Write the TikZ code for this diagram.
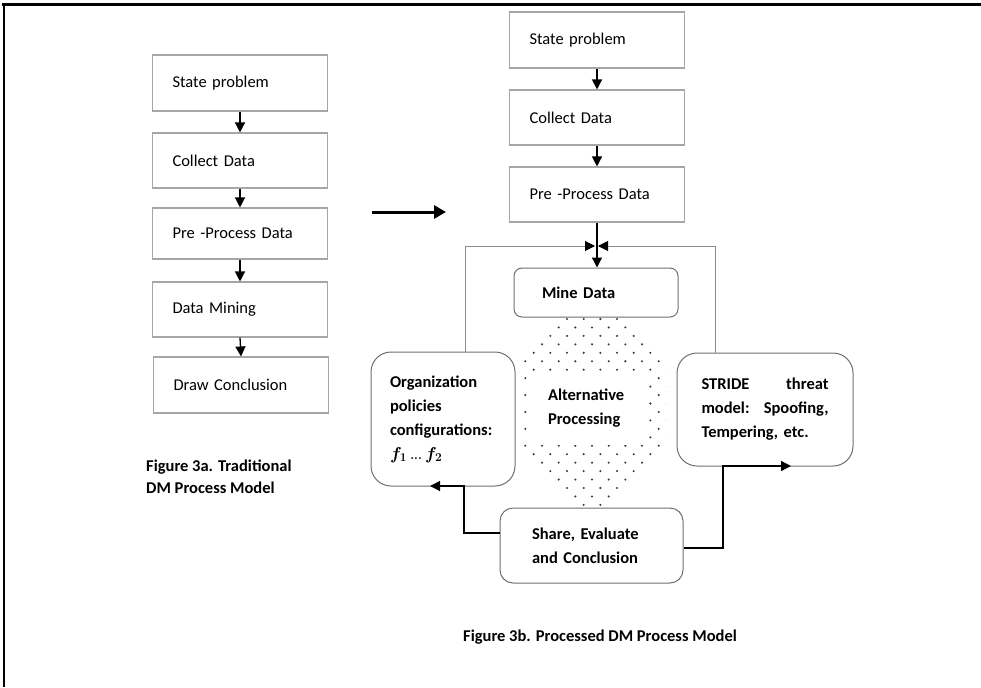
\documentclass[tikz,border=0pt]{standalone}
\usepackage{fontspec}
\setmainfont{Carlito}
\usetikzlibrary{arrows.meta,calc}
\definecolor{boxgrey}{HTML}{A6A6A6}
\definecolor{roundgrey}{HTML}{6E6E6E}
\definecolor{linkgrey}{HTML}{8C8C8C}
\definecolor{dotgrey}{HTML}{3A3A3A}
\begin{document}
\begin{tikzpicture}[x=1pt,y=-1pt,
  bodyfont/.style={font=\fontsize{16.5}{24}\selectfont},
  boldfont/.style={font=\fontsize{16.5}{24}\selectfont\bfseries},
  sqbox/.style={bodyfont, draw=boxgrey, line width=1.1pt, inner xsep=20pt,
    inner ysep=0pt, text width=135pt, align=left, minimum width=175pt,
    minimum height=55pt},
  rbox/.style={boldfont, draw=roundgrey, line width=1pt, inner ysep=0pt,
    align=left},
  arr/.style={line width=1.3pt, -{Triangle[length=10pt,width=10pt]}},
  fb/.style={draw=linkgrey, line width=1pt, -{Triangle[length=10pt,width=10pt,color=black]}},
  bigarr/.style={line width=3pt, -{Triangle[length=12pt,width=13pt]}},
  caption/.style={font=\fontsize{16.5}{22}\selectfont\bfseries, align=left, inner sep=0pt}
]
\useasboundingbox (0,0) rectangle (981,687);

% page frame
\draw[line width=3pt] (2,5) -- (981,5);
\draw[line width=1.8pt] (4,5) -- (4,687);

% traditional model
\node[sqbox, minimum height=56pt] (l1) at (240,83)    {State problem};
\node[sqbox]                      (l2) at (240,160.5) {Collect Data};
\node[sqbox, minimum height=51pt] (l3) at (240,233.5) {Pre -Process Data};
\node[sqbox]                      (l4) at (240,309.5) {Data Mining};
\node[sqbox, minimum height=56pt] (l5) at (241,385)   {Draw Conclusion};
\foreach \a/\b in {l1/l2,l2/l3,l3/l4,l4/l5}
  \draw[arr] (\a.south) -- (\b.north);

\node[caption, anchor=north west] (capA) at (146,460)
  {Figure 3a. Traditional\\DM Process Model};

% transition arrow
\coordinate (tA) at (372,212);
\coordinate (tB) at (446,212);
\draw[bigarr] (tA) -- (tB);

% processed model
\node[sqbox, minimum height=56pt] (r1) at (597,40)    {State problem};
\node[sqbox]                      (r2) at (597,117.5) {Collect Data};
\node[sqbox]                      (r3) at (597,194.5) {Pre -Process Data};
\draw[arr] (r1.south) -- (r2.north);
\draw[arr] (r2.south) -- (r3.north);

\node[rbox, rounded corners=8pt, minimum width=164pt, minimum height=49pt,
  inner xsep=28pt, text width=108pt] (mine) at (596,292.5) {Mine Data};

% alternative processing region
\begin{scope}
  \clip (562,315) -- (620,315) -- (666,362) -- (666,447) -- (605,510)
    -- (582,510) -- (521,447) -- (521,362) -- cycle;
  \foreach \j in {0,...,23} {
    \foreach \i in {0,...,10} {
      \pgfmathsetmacro{\dx}{517 + \i*16.67 + mod(\j,2)*8.33}
      \pgfmathsetmacro{\dy}{319 + \j*8.45}
      \fill[dotgrey] (\dx,\dy) circle[radius=1.15pt];
    }
  }
\end{scope}
\node[boldfont, fill=white, minimum width=117pt, minimum height=74pt,
  inner xsep=18.5pt, inner ysep=0pt, text width=80pt, align=left]
  (alt) at (588,408) {Alternative\\Processing};

\node[rbox, rounded corners=20pt, minimum width=144pt, minimum height=134pt,
  inner xsep=19pt, text width=106pt] (org) at (443,419)
  {Organization\\policies\\configurations:\\{\boldmath$f_1\,{\scriptstyle\ldots}\,f_2$}};

\node[rbox, rounded corners=20pt, minimum width=176pt, minimum height=113pt,
  inner xsep=24.5pt, text width=127pt] (stride) at (765,409.5)
  {\makebox[127pt][s]{STRIDE\hfill threat}\\
   \makebox[127pt][s]{model:\hfill Spoofing,}\\
   Tempering, etc.};

\node[rbox, rounded corners=13pt, minimum width=183pt, minimum height=75pt,
  inner xsep=32pt, text width=119pt] (share) at (591.5,545.5)
  {Share, Evaluate\\and Conclusion};

% main flow into mining
\draw[arr] (r3.south) -- (r3.south |- mine.north);

% feedback loops back to mining
\coordinate (fbL) at (465,246);
\coordinate (fbR) at (715,246);
\coordinate (jL) at (595,246);
\coordinate (jR) at (598,246);
\draw[fb] (org.north -| fbL) -- (fbL) -- (jL);
\draw[fb] (stride.north -| fbR) -- (fbR) -- (jR);

% results passed to the side models
\coordinate (bl) at (464,533);
\coordinate (oa) at (430,486);
\coordinate (br) at (723,548);
\coordinate (sa) at (791,466);
\draw[arr] (share.west |- bl) -- (bl) |- (oa);
\draw[arr] (share.east |- br) -- (br) |- (sa);

\node[caption, anchor=west] (capB) at (463,637)
  {Figure 3b. Processed DM Process Model};
\end{tikzpicture}
\end{document}
